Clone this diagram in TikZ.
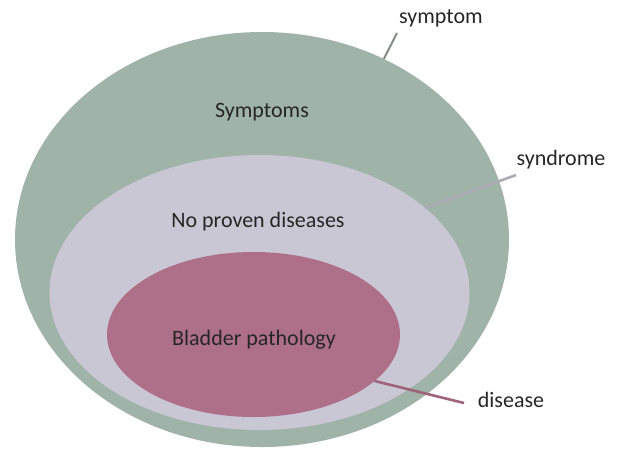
\documentclass[tikz,border=0pt]{standalone}
\usepackage{fontspec}
\setmainfont{Carlito}
\usetikzlibrary{shapes.geometric}
\definecolor{ringgreen}{HTML}{A0B3A8}
\definecolor{lavender}{HTML}{CAC7D5}
\definecolor{rosepink}{HTML}{AE6F88}
\definecolor{txt}{HTML}{262626}
\tikzset{
  blob/.style={ellipse, draw=none, inner sep=0pt, outer sep=0pt},
  lbl/.style={font=\fontsize{22}{24}\selectfont, text=txt, inner sep=0pt},
  lead/.style={line width=2.6pt, line cap=butt}
}
\begin{document}
\begin{tikzpicture}[x=1pt,y=-1pt]
\useasboundingbox[fill=white] (0,0) rectangle (621,448);
\node[blob, fill=ringgreen, minimum width=494pt, minimum height=415pt] (outer) at (262,239.5) {};
\node[blob, fill=lavender, minimum width=420pt, minimum height=275pt] (middle) at (259.5,292.5) {};
\node[blob, fill=rosepink, minimum width=293pt, minimum height=165pt] (inner) at (253.5,334.5) {};
\node[lbl] (tsymptoms) at (262,112) {Symptoms};
\node[lbl] (tnoproven) at (258,222) {No proven diseases};
\node[lbl] (tbladder) at (254,340) {Bladder pathology};
\node[lbl] (lsymptom) at (441,18) {symptom};
\node[lbl] (lsyndrome) at (561,160) {syndrome};
\node[lbl] (ldisease) at (511,400) {disease};
\coordinate (csymptom) at (397,33);
\coordinate (csyndrome) at (516,175);
\coordinate (cdisease) at (464,403);
\draw[lead, line width=2pt, draw=ringgreen!80!black] (outer.56) -- (csymptom);
\draw[lead, draw=lavender!85!black] (middle.27) -- (csyndrome);
\draw[lead, draw=rosepink!90!black] (inner.-21) -- (cdisease);
\end{tikzpicture}
\end{document}
